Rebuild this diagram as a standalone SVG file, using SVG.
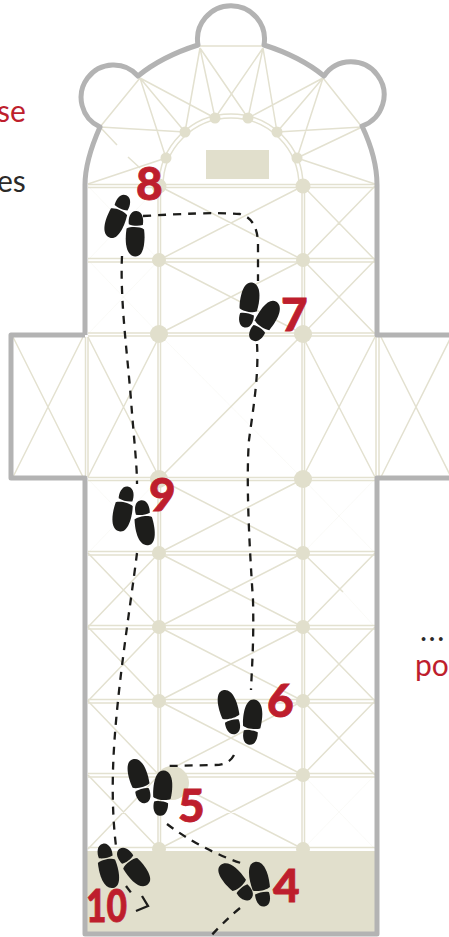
<svg xmlns="http://www.w3.org/2000/svg" width="449" height="937" viewBox="0 0 449 937">
<style>
.g{stroke:#e3e1d0;stroke-width:1.5;fill:none}
.gd{stroke:#e3e1d0;stroke-width:1;fill:none;opacity:.18}
.n{fill:#e1dfcc}
.w{stroke:#b3b3b3;stroke-width:5;fill:none;stroke-linejoin:round}
.p{stroke:#1d1d1b;stroke-width:2.300;fill:none;stroke-dasharray:8 7}
.s{fill:#1d1d1b}
.num{font-family:Lato,"Liberation Sans",sans-serif;font-weight:900;font-size:46px;fill:#be1e2d;stroke:#be1e2d;stroke-width:.8}
.t{font-family:Lato,"Open Sans",sans-serif;font-size:30px;font-weight:400}
</style>
<defs>
<g id="shoe"><path class="s" d="M-8.500,11C-10.500,0-10,-16.500-1,-16.500C8,-16.500 10.500,-3 9,11C5,13.500-5,13.500-8.500,11Z"/><path class="s" d="M-7,15.500C-3,14 3,14 7,15.500C8,21 6.500,29 0,29C-6,29-8,21-7,15.500Z"/></g>
</defs>
<rect width="449" height="937" fill="#fff"/>
<g id="plan-lines">
<path class="g" d="M88,184.500H375M88,187.500H375M88,258.500H375M88,262H375M88,333H375M88,336H375M88,477.500H375M88,480.500H375M88,551.500H375M88,555H375M88,625.500H375M88,629H375M88,699.500H375M88,703H375M88,773.500H375M88,777H375M88,847.500H375M158,186V851M160.500,186V851M302,186V851M304.500,186V851M85.500,337V477M88,337V477M376,337V477M379,337V477"/>
<path class="g" d="M163,186A68,68 0 0 1 299,186M159,186A72,72 0 0 1 303,186"/>
<path class="g" d="M200,46H263M140,78L100,127M323,78L362,127M140,78L185,132M140,78L215,118M140,78L166,158M200,48L185,132M200,48L215,118M200,48L248,118M263,48L215,118M263,48L248,118M263,48L277,132M323,78L248,118M323,78L277,132M323,78L297,158M100,127L185,132M100,127L117,145M362,127L277,132M362,127L297,158M88,184L166,158M375,184L297,158M128,157L140,168"/>
<path class="g" d="M159,186L303,260M303,186L159,260M159,260L303,334M303,260L159,334M303,334L159,479M159,479L303,553M303,479L159,553M159,553L303,627M303,553L159,627M159,627L303,701M303,627L159,701M159,701L303,775M303,701L159,775M159,775L303,849M303,775L159,849M303,186L375,260M375,186L303,260M303,260L375,334M375,260L303,334M88,337L159,477M159,337L88,477M303,337L375,477M375,337L303,477M13,337L83,477M83,337L13,477M381,337L451,477M451,337L381,477M88,627L159,701M159,627L88,701M303,627L375,701M375,627L303,701M303,701L375,775M375,701L303,775M88,775L159,849M159,775L88,849M88,701L159,775M88,553L159,627M88,627L159,553M303,553L343,592M375,553L303,627"/>
<path class="gd" d="M88,186L159,260M159,186L88,260M88,260L159,334M159,260L88,334M159,334L303,479M88,479L159,553M159,479L88,553M303,479L375,553M375,479L303,553M343,592L375,627M303,775L375,849M375,775L303,849"/>
</g>
<g id="altar"><rect x="206" y="150" width="63" height="29" class="n"/></g>
<g id="columns" class="n">
<circle cx="166" cy="158" r="5.500"/><circle cx="185" cy="132" r="5.500"/><circle cx="215" cy="118" r="5.500"/><circle cx="248" cy="118" r="5.500"/><circle cx="277" cy="132" r="5.500"/><circle cx="297" cy="158" r="5.500"/>
<circle cx="159" cy="186" r="7.500"/><circle cx="303" cy="186" r="7.500"/><circle cx="159" cy="260" r="7"/><circle cx="303" cy="260" r="7"/><circle cx="159" cy="334" r="9"/><circle cx="303" cy="334" r="9"/><circle cx="159" cy="479" r="9"/><circle cx="303" cy="479" r="9"/><circle cx="159" cy="553" r="7"/><circle cx="303" cy="553" r="7"/><circle cx="159" cy="627" r="7"/><circle cx="303" cy="627" r="7"/><circle cx="159" cy="701" r="7"/><circle cx="303" cy="701" r="7"/><circle cx="172" cy="783" r="17"/><circle cx="303" cy="775" r="7"/><circle cx="159" cy="849" r="7"/><circle cx="303" cy="849" r="7"/>
</g>
<g id="floor"><rect x="87" y="851" width="289" height="82" class="n"/></g>
<g id="walls">
<path class="w" d="M85,335V185C85,165 92,145 100,127A32.500,32.500 0 1 1 138,76C155,62 176,52 198,45A33.500,33.500 0 1 1 264,45C286,52 307,62 324,76A33,33 0 1 1 362,126C371,145 377,165 377,185V335H449M85,335H11V478H85V934H377V478H449"/>
</g>
<g id="connectors">
<path class="p" d="M143,216C180,214 215,212 240,214C252,217 258,228 258,245V281"/>
<path class="p" d="M257,344C259,375 253,410 249,440C246,480 249,540 253,600C254,640 252,665 251,690"/>
<path class="p" d="M234,755C230,763 222,765 215,765L167,766"/>
<path class="p" d="M167,824C185,838 215,855 244,864"/>
<path class="p" d="M240,908C228,918 218,928 210,937"/>
<path class="p" d="M122,256C120,300 127,350 131,400C134,440 137,465 137,484"/>
<path class="p" d="M137,553C130,610 115,700 113,770C112,805 114,830 116,846"/>
<path class="p" d="M126,886L132,894"/>
<path d="M142,896L148,906L136,911" fill="none" stroke="#1d1d1b" stroke-width="2.300"/>
</g>
<g id="step-8"><use href="#shoe" transform="translate(115,222) rotate(203)"/><use href="#shoe" transform="translate(135,240) rotate(183)"/><text class="num" x="136" y="200">8</text></g>
<g id="step-7"><use href="#shoe" transform="translate(250,299) rotate(11)"/><use href="#shoe" transform="translate(268,316) rotate(34)"/><text class="num" x="281" y="331">7</text></g>
<g id="step-9"><use href="#shoe" transform="translate(122,515) rotate(193)"/><use href="#shoe" transform="translate(145,529) rotate(172)"/><text class="num" x="149" y="511">9</text></g>
<g id="step-6"><use href="#shoe" transform="translate(228,706) rotate(-14)"/><use href="#shoe" transform="translate(253,716) rotate(8)"/><text class="num" x="267" y="717">6</text></g>
<g id="step-5"><use href="#shoe" transform="translate(138,775) rotate(-15)"/><use href="#shoe" transform="translate(163,787) rotate(7)"/><text class="num" x="178" y="822">5</text></g>
<g id="step-4"><use href="#shoe" transform="translate(232,877) rotate(-40)"/><use href="#shoe" transform="translate(259,878) rotate(-11)"/><text class="num" x="273" y="902">4</text></g>
<g id="step-10"><use href="#shoe" transform="translate(109,872) rotate(168)"/><use href="#shoe" transform="translate(137,872) rotate(143)"/><text class="num" x="86" y="922" textLength="41" lengthAdjust="spacingAndGlyphs">10</text></g>
<g id="labels">
<text class="t" x="-3" y="122" fill="#be1e2d">se</text>
<text class="t" x="-3" y="192" fill="#2b2a29">es</text>
<text class="t" x="420" y="641" fill="#2b2a29" letter-spacing="1.500">...</text>
<text class="t" x="415" y="676" fill="#be1e2d">po</text>
</g>
</svg>
